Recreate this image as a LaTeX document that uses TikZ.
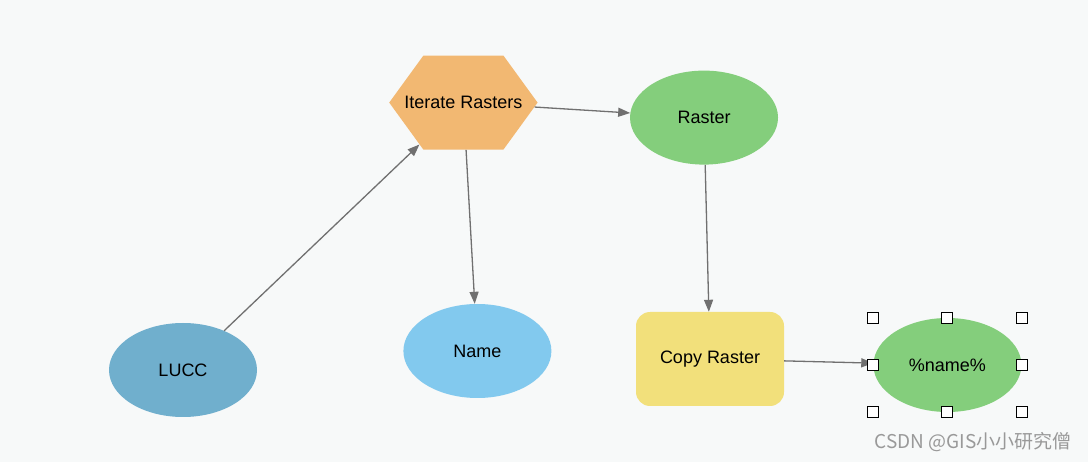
\documentclass[tikz,border=0pt]{standalone}
\usepackage{fontspec}
\setmainfont{Liberation Sans}
\newfontfamily\cjkfont{Noto Sans CJK SC}
\usetikzlibrary{shapes, shapes.geometric, shapes.symbols, arrows.meta, positioning}

\definecolor{canvas}{HTML}{F7F9F9}
\definecolor{inputblue}{HTML}{70AFCD}
\definecolor{iterorange}{HTML}{F2B872}
\definecolor{valuegreen}{HTML}{84CE7C}
\definecolor{paramblue}{HTML}{82C9EE}
\definecolor{toolyellow}{HTML}{F2E07B}
\definecolor{linkgray}{HTML}{707070}

\begin{document}
\begin{tikzpicture}[
        x=1pt, y=-1pt,
        font=\fontsize{18}{21}\selectfont,
        data/.style = {
            ellipse,
            minimum width=148pt,
            minimum height=94pt,
            inner sep=0pt,
            align=center
        },
        iterator/.style = {
            signal,
            signal to=west and east,
            signal pointer angle=108,
            fill=iterorange,
            inner xsep=-19pt,
            inner ysep=0pt,
            minimum height=94pt
        },
        tool/.style = {
            rectangle,
            rounded corners=14pt,
            fill=toolyellow,
            minimum width=148pt,
            minimum height=94pt,
            inner sep=0pt
        },
        link/.style = {
            draw=linkgray,
            line width=1.3pt,
            -{Triangle[length=12pt, width=9pt]}
        },
        handle/.style = {
            draw=black,
            fill=white,
            line width=1pt,
            minimum size=11pt,
            inner sep=0pt
        }
    ]

    \fill[canvas] (0,0) rectangle (1088,462);
    \useasboundingbox (0,0) rectangle (1088,462);

    \node[data, fill=inputblue] (lucc) at (183,370) {LUCC};
    \node[data, fill=paramblue, right=146pt of lucc, yshift=19pt] (name) {Name};
    \node[iterator, above=154pt of name, xshift=-14pt] (iter) {Iterate Rasters};
    \node[data, fill=valuegreen, right=92pt of iter, yshift=-15pt] (raster) {Raster};
    \node[tool, below=147pt of raster, xshift=6pt] (copy) {Copy Raster};
    \node[data, fill=valuegreen, right=89pt of copy, yshift=-6pt] (out) {\%name\%};

    \draw[link] (lucc) -- (iter);
    \draw[link] (iter) -- (raster);
    \draw[link] (iter) -- (name);
    \draw[link] (raster) -- (copy);
    \draw[link] (copy) -- (out);

    % selection handles
    \foreach \hx/\hy [count=\i] in {west/north, center/north, east/north, west/center,
                                    east/center, west/south, center/south, east/south}
        \node[handle] (h\i) at (out.\hx |- out.\hy) {};

    \node[text=black!40, font=\cjkfont\fontsize{19}{22}\selectfont] (mark) at (973,442) {CSDN @GIS小小研究僧};

\end{tikzpicture}
\end{document}
